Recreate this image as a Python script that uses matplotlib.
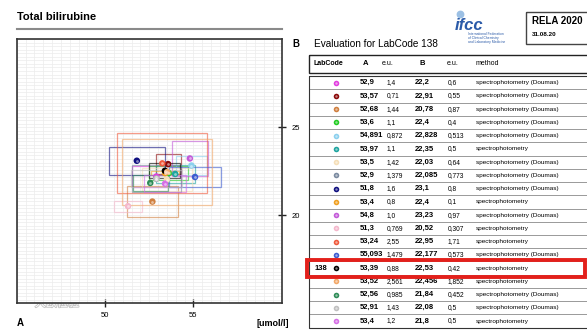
import numpy as np
import matplotlib
matplotlib.use("Agg")
import matplotlib.pyplot as plt
from matplotlib.patches import Rectangle, Circle
import matplotlib.patheffects as pe

plt.rcParams["font.family"] = ["Liberation Sans", "Noto Sans CJK SC", "DejaVu Sans"]

lab_codes = [""] * 14 + ["138"] + [""] * 4
a_vals = [52.9, 53.57, 52.68, 53.6, 54.891, 53.97, 53.5, 52.9, 51.8, 53.4,
          54.8, 51.3, 53.24, 55.093, 53.39, 53.52, 52.56, 52.91, 53.4]
a_eu = [1.4, 0.71, 1.44, 1.1, 0.872, 1.1, 1.42, 1.379, 1.6, 0.8,
        1.0, 0.769, 2.55, 1.479, 0.88, 2.561, 0.985, 1.43, 1.2]
b_vals = [22.2, 22.91, 20.78, 22.4, 22.828, 22.35, 22.03, 22.085, 23.1, 22.4,
          23.23, 20.52, 22.95, 22.177, 22.53, 22.456, 21.84, 22.08, 21.8]
b_eu = [0.6, 0.55, 0.87, 0.4, 0.513, 0.5, 0.64, 0.773, 0.8, 0.1,
        0.97, 0.307, 1.71, 0.573, 0.42, 1.852, 0.452, 0.5, 0.5]
doumas = "spectrophotometry (Doumas)"
plain = "spectrophotometry"
methods = [doumas, doumas, doumas, doumas, doumas, plain, doumas, doumas, doumas, plain,
           doumas, plain, plain, doumas, plain, plain, doumas, doumas, plain]
colors = ["#e23ee0", "#8b0a0a", "#d08040", "#22cc22", "#8cd0ee", "#1fa5a0",
          "#f5dfb8", "#7a8aa0", "#101080", "#f0a020", "#c35ad8", "#f4b8cc",
          "#f05a3c", "#3c5cd0", "#000000", "#f2a868", "#2e8b57", "#c0c0c0", "#d66ee6"]
highlight = "138"


def fmt(v):
    return str(v).replace(".", ",")


W, H = 587, 330
fig = plt.figure(figsize=(W / 100, H / 100), dpi=100)

# overlay in pixel coordinates for text and table
ov = fig.add_axes([0, 0, 1, 1])
ov.set_xlim(0, W)
ov.set_ylim(H, 0)
ov.axis("off")

# --- scatter panel ---
ax = fig.add_axes([16.7 / W, (H - 303.3) / H, 265 / W, 264 / H])
ax.set_xlim(45, 60)
ax.set_ylim(15, 30)
ax.set_xticks([50, 55])
ax.set_yticks([20, 25])
ax.set_xticks(np.arange(45, 60.01, 0.5), minor=True)
ax.set_yticks(np.arange(15, 30.01, 0.2), minor=True)
ax.grid(which="both", color="#ececec", linewidth=0.5)
ax.set_axisbelow(True)
ax.yaxis.tick_right()
ax.tick_params(which="major", direction="inout", length=6, width=1, labelsize=5.5,
               color="#222")
ax.tick_params(axis="x", pad=3)
ax.tick_params(axis="y", pad=4)
ax.tick_params(which="minor", length=0)
for s in ax.spines.values():
    s.set_color("#333")
    s.set_linewidth(1.2)

for i in range(len(a_vals)):
    ax.add_patch(Rectangle((a_vals[i] - a_eu[i], b_vals[i] - b_eu[i]), 2 * a_eu[i], 2 * b_eu[i],
                           fill=False, edgecolor=colors[i], linewidth=0.9, alpha=0.6, zorder=2))
ax.scatter(a_vals, b_vals, s=22, c=colors, zorder=4, linewidths=0)
ax.scatter(a_vals, b_vals, s=4, c="white", alpha=0.5, zorder=5, linewidths=0)

# --- headings ---
ov.text(17, 17, "Total bilirubine", fontsize=8, fontweight="bold", va="center")
ov.plot([17, 282], [28.5, 28.5], color="#8a8a8a", linewidth=1.5)
ov.text(292, 44, "B", fontsize=7, fontweight="bold", va="center")
ov.text(314, 44, "Evaluation for LabCode 138", fontsize=7.2, va="center")
ov.text(17, 323, "A", fontsize=7, fontweight="bold", va="center")
ov.text(289, 323, "[umol/l]", fontsize=6.5, fontweight="bold", ha="right", va="center")

# ifcc logo
ov.add_patch(Circle((460.5, 14.5), 3.2, color="#9cc0e4"))
ov.text(455, 26, "ifcc", fontsize=12, fontweight="bold", fontstyle="italic",
        color="#2a5aa8", va="center")
ov.text(468, 38, "International Federation\nof Clinical Chemistry\nand Laboratory Medicine",
        fontsize=2.4, color="#2a5aa8", va="center", linespacing=1.1)

# RELA box
ov.add_patch(Rectangle((526, 12), 70, 32, fill=False, edgecolor="#444", linewidth=1))
ov.text(532, 21, "RELA 2020", fontsize=7, fontweight="bold", va="center")
ov.text(532, 35, "31.08.20", fontsize=4.5, fontweight="bold", va="center")

# --- table ---
tx0 = 309
ov.add_patch(Rectangle((tx0, 54.5), 300, 18.5, fill=False, edgecolor="#222", linewidth=1))
hy = 63.8
ov.text(313, hy, "LabCode", fontsize=5, fontweight="bold", va="center")
ov.text(363, hy, "A", fontsize=5.5, fontweight="bold", va="center")
ov.text(382, hy, "e.u.", fontsize=5, va="center")
ov.text(419, hy, "B", fontsize=5.5, fontweight="bold", va="center")
ov.text(447, hy, "e.u.", fontsize=5, va="center")
ov.text(476, hy, "method", fontsize=5, va="center")

row_h = 13.24
top = 76.1
n = len(a_vals)
for i in range(n):
    y0 = top + i * row_h
    yc = y0 + row_h / 2
    ov.add_patch(Rectangle((tx0, y0), 300, row_h, fill=False, edgecolor="#9a9a9a", linewidth=0.6))
    if lab_codes[i]:
        ov.text(315, yc, lab_codes[i], fontsize=5.5, fontweight="bold", va="center")
    ov.text(360, yc, fmt(a_vals[i]), fontsize=5.5, fontweight="bold", va="center")
    ov.text(387, yc, fmt(a_eu[i]), fontsize=4.8, va="center")
    ov.text(415, yc, fmt(b_vals[i]), fontsize=5.5, fontweight="bold", va="center")
    ov.text(448, yc, fmt(b_eu[i]), fontsize=4.8, va="center")
    ov.text(476, yc, methods[i], fontsize=4.6, va="center")
    ov.scatter([336], [yc], s=16, color=colors[i], linewidths=0, zorder=4)
    ov.scatter([336], [yc], s=3, color="white", alpha=0.5, linewidths=0, zorder=5)
    if lab_codes[i] == highlight:
        ov.add_patch(Rectangle((307, y0 - 1.8), 278, row_h + 3.6, fill=False,
                               edgecolor="#e3201b", linewidth=2.8, zorder=6))
ov.add_patch(Rectangle((tx0, top), 300, n * row_h, fill=False, edgecolor="#333", linewidth=0.8))

# faint watermark, bottom left
wm = [pe.withStroke(linewidth=1.2, foreground="#c4c4c4")]
ov.text(57, 303, "大欧检验", fontsize=8, color="white", ha="center", va="center",
        path_effects=wm, zorder=7)

fig.savefig("out.png", dpi=100)
